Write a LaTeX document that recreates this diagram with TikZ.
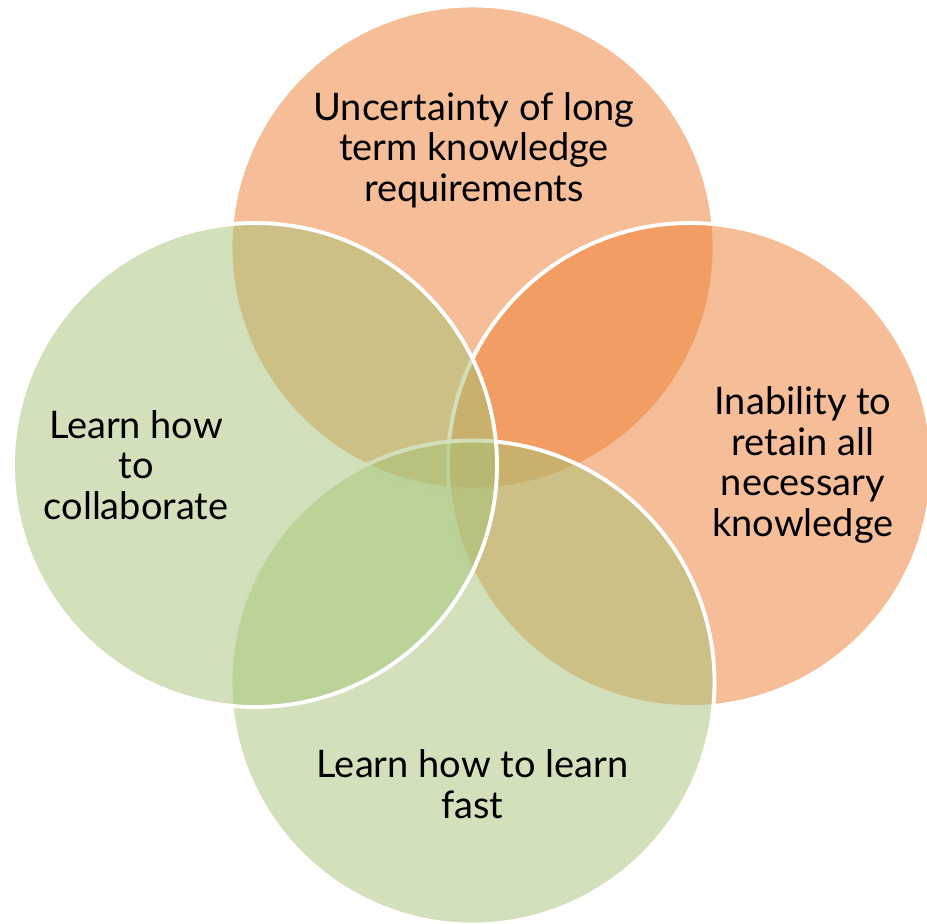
\documentclass[tikz,border=0pt]{standalone}
\usepackage{fontspec}
\setmainfont{Lato}
\usepackage{tikz}
\definecolor{vennorange}{RGB}{237,125,49}
\definecolor{venngreen}{RGB}{165,195,120}
\tikzset{venn/.style={circle,draw=white,line width=2.2pt,minimum size=9.68cm,
        inner sep=0pt,fill opacity=0.5},
    venntext/.style={align=center,text=black,
        font=\fontsize{21.6}{23}\selectfont}}

\begin{document}
\begin{tikzpicture}
\useasboundingbox (-9.45,-9.16) rectangle (9.09,9.30);
% circles, in stacking order
\node[venn,fill=vennorange] (top) at (0,4.35) {};
\node[venn,fill=vennorange] (right) at (4.35,0) {};
\node[venn,fill=venngreen] (bottom) at (0,-4.35) {};
\node[venn,fill=venngreen] (left) at (-4.35,0) {};
% texts
\node[venntext] (toptext) at (0.03,6.3) {Uncertainty of long\\term knowledge\\requirements};
\node[venntext] (righttext) at (6.61,0) {Inability to\\retain all\\necessary\\knowledge};
\node[venntext] (bottomtext) at (0,-6.38) {Learn how to learn\\fast};
\node[venntext] (lefttext) at (-6.73,0) {Learn how\\to\\collaborate};
\end{tikzpicture}
\end{document}
